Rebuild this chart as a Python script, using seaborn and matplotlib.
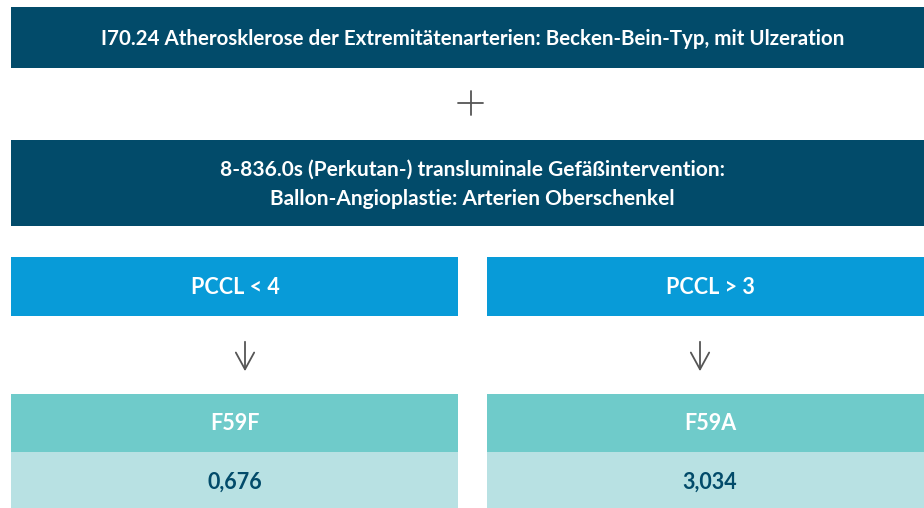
import matplotlib.pyplot as plt
import matplotlib.patches as mpatches
import seaborn as sns

# Diagram content
diagnosis = "I70.24 Atherosklerose der Extremitätenarterien: Becken-Bein-Typ, mit Ulzeration"
procedure = ["8-836.0s (Perkutan-) transluminale Gefäßintervention:",
             "Ballon-Angioplastie: Arterien Oberschenkel"]
pccl_labels = ["PCCL < 4", "PCCL > 3"]
drg_codes = ["F59F", "F59A"]
cost_weights = ["0,676", "3,034"]

NAVY = "#024b6a"
BLUE = "#089bd8"
TEAL = "#6fcbca"
LIGHT = "#b8e1e3"
GREY = "#555555"

sns.set_theme(style="white")
plt.rcParams['font.family'] = ['Lato', 'DejaVu Sans']

fig = plt.figure(figsize=(9.24, 5.08), dpi=100)
ax = fig.add_axes([0, 0, 1, 1])
ax.set_xlim(0, 924)
ax.set_ylim(508, 0)
ax.axis('off')


def box(x0, y0, x1, y1, color):
    ax.add_patch(mpatches.Rectangle((x0, y0), x1 - x0, y1 - y0,
                                    facecolor=color, edgecolor='none'))


# top boxes
box(11, 7, 924, 68, NAVY)
ax.text(473, 39, diagnosis, ha='center', va='center', color='white',
        fontsize=14.8, fontweight='bold')

# plus sign
ax.plot([458, 483], [103, 103], color=GREY, lw=1.3)
ax.plot([470.5, 470.5], [91, 115], color=GREY, lw=1.3)

box(11, 140, 924, 226, NAVY)
ax.text(472, 170, procedure[0], ha='center', va='center', color='white',
        fontsize=15, fontweight='bold')
ax.text(472, 199, procedure[1], ha='center', va='center', color='white',
        fontsize=15, fontweight='bold')

# two branches
columns = [(11, 458), (487, 924)]
centers = [235, 710]
arrow_x = [245, 700]
for i, (x0, x1) in enumerate(columns):
    cx = centers[i]
    box(x0, 257, x1, 316, BLUE)
    ax.text(cx, 287, pccl_labels[i], ha='center', va='center', color='white',
            fontsize=15.5, fontweight='bold')
    ax.annotate("", xy=(arrow_x[i], 374), xytext=(arrow_x[i], 339),
                arrowprops=dict(arrowstyle='->,head_length=0.55,head_width=0.3',
                                color=GREY, lw=1.3, mutation_scale=22))
    box(x0, 394, x1, 452, TEAL)
    ax.text(cx, 424, drg_codes[i], ha='center', va='center', color='white',
            fontsize=15.5, fontweight='bold')
    box(x0, 452, x1, 508, LIGHT)
    ax.text(cx, 482, cost_weights[i], ha='center', va='center', color=NAVY,
            fontsize=15.5, fontweight='bold')

fig.savefig("out.png", dpi=100)
